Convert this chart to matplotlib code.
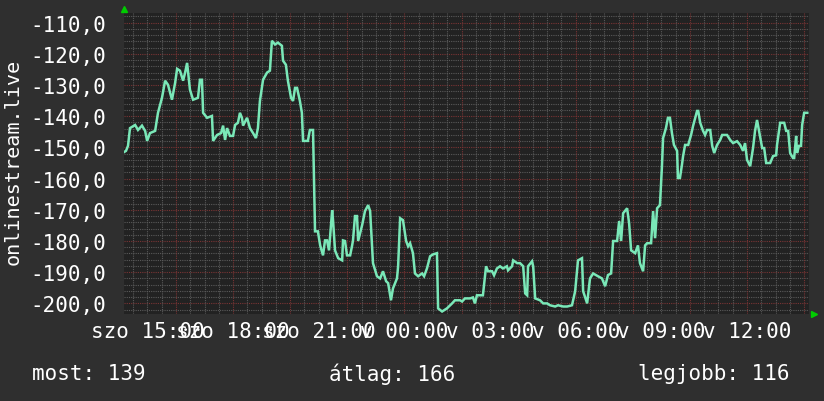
import matplotlib
matplotlib.use("Agg")
import matplotlib.pyplot as plt
import matplotlib.transforms as mtransforms
import numpy as np

# ora (szombat 00:00-tol szamolva) es helyezes (negativ ertekkel)
hours = [14.18, 14.25, 14.32, 14.39, 14.57, 14.67, 14.81, 14.92, 14.99, 15.09,
         15.27, 15.37, 15.51, 15.62, 15.72, 15.86, 15.97, 16.04, 16.14, 16.25,
         16.32, 16.39, 16.49, 16.60, 16.77, 16.84, 16.91, 16.95, 17.09, 17.26,
         17.30, 17.44, 17.58, 17.65, 17.72, 17.79, 17.89, 18.00, 18.07, 18.17,
         18.24, 18.31, 18.35, 18.49, 18.59, 18.70, 18.80, 18.87, 18.94, 19.05,
         19.19, 19.29, 19.36, 19.47, 19.57, 19.71, 19.75, 19.85, 19.92, 20.03,
         20.10, 20.17, 20.24, 20.34, 20.41, 20.45, 20.62, 20.69, 20.80, 20.87,
         20.97, 21.05, 21.15, 21.22, 21.29, 21.36, 21.47, 21.50, 21.57, 21.68,
         21.82, 21.85, 21.92, 21.99, 22.10, 22.17, 22.20, 22.27, 22.34, 22.38,
         22.52, 22.62, 22.73, 22.80, 22.90, 23.04, 23.15, 23.25, 23.36, 23.43,
         23.53, 23.60, 23.74, 23.78, 23.85, 23.95, 24.06, 24.13, 24.20, 24.30,
         24.37, 24.48, 24.62, 24.69, 24.79, 24.90, 25.00, 25.14, 25.18, 25.32,
         25.49, 25.67, 25.77, 25.95, 26.02, 26.12, 26.30, 26.40, 26.47, 26.54,
         26.75, 26.86, 26.93, 27.07, 27.14, 27.24, 27.35, 27.45, 27.59, 27.63,
         27.77, 27.81, 27.95, 28.05, 28.16, 28.23, 28.30, 28.33, 28.47, 28.51,
         28.58, 28.75, 28.86, 29.00, 29.10, 29.28, 29.38, 29.56, 29.70, 29.87,
         29.98, 30.08, 30.22, 30.26, 30.40, 30.50, 30.61, 30.78, 30.92, 31.03,
         31.13, 31.24, 31.31, 31.45, 31.52, 31.59, 31.66, 31.80, 31.87, 31.94,
         32.08, 32.18, 32.25, 32.36, 32.43, 32.50, 32.64, 32.71, 32.78, 32.85,
         32.95, 33.02, 33.06, 33.16, 33.23, 33.30, 33.37, 33.44, 33.55, 33.58,
         33.65, 33.72, 33.76, 33.83, 33.94, 34.04, 34.11, 34.25, 34.29, 34.36,
         34.46, 34.53, 34.60, 34.71, 34.78, 34.85, 34.95, 35.06, 35.13, 35.30,
         35.41, 35.51, 35.65, 35.76, 35.86, 35.93, 36.00, 36.11, 36.21, 36.28,
         36.35, 36.42, 36.53, 36.60, 36.67, 36.81, 36.91, 37.02, 37.05, 37.16,
         37.30, 37.37, 37.44, 37.51, 37.61, 37.65, 37.72, 37.75, 37.82, 37.89,
         37.93, 38.00, 38.11]
rank = [-151.5, -151.1, -149.5, -143.8, -142.8, -144.4, -143.0, -144.7, -147.9, -145.4,
        -144.7, -138.9, -134.1, -128.6, -129.9, -134.7, -129.3, -124.8, -125.4, -128.6,
        -126.0, -122.9, -131.5, -134.7, -134.1, -128.3, -128.3, -138.9, -140.5, -139.9,
        -147.9, -146.0, -145.4, -143.0, -147.6, -143.8, -146.3, -146.3, -142.8, -142.1,
        -138.9, -140.5, -143.0, -140.5, -143.8, -145.4, -147.0, -143.8, -135.1, -128.3,
        -126.0, -125.4, -115.8, -117.0, -116.4, -117.4, -122.2, -123.5, -128.6, -134.1,
        -135.1, -130.9, -130.9, -135.1, -138.9, -147.9, -147.9, -144.4, -144.4, -176.9,
        -176.9, -181.4, -184.6, -179.8, -179.8, -183.0, -170.1, -173.3, -183.0, -185.5,
        -186.2, -179.8, -180.0, -184.6, -184.6, -181.4, -179.8, -172.0, -172.0, -180.0,
        -174.9, -170.4, -168.5, -170.4, -187.1, -191.3, -192.0, -189.7, -192.9, -193.5,
        -199.0, -195.2, -192.0, -188.1, -172.7, -173.3, -180.0, -181.7, -180.7, -183.9,
        -190.4, -191.3, -190.4, -191.3, -188.8, -184.9, -184.3, -183.9, -201.6, -202.6,
        -201.6, -200.0, -199.0, -199.0, -199.4, -198.4, -198.4, -198.1, -200.0, -197.4,
        -197.4, -188.1, -189.7, -189.7, -191.0, -188.8, -188.1, -188.8, -188.1, -189.4,
        -188.1, -186.2, -187.1, -187.1, -188.1, -196.8, -197.4, -188.1, -186.5, -188.1,
        -198.4, -199.0, -200.0, -200.0, -200.6, -201.0, -200.6, -201.0, -201.0, -200.6,
        -196.1, -186.2, -185.5, -196.1, -200.0, -192.0, -190.4, -191.3, -192.0, -194.5,
        -190.9, -190.4, -180.0, -180.0, -173.6, -180.0, -171.1, -169.5, -174.3, -183.0,
        -183.9, -181.4, -187.1, -189.7, -181.4, -180.7, -180.7, -170.4, -179.1, -169.5,
        -168.5, -156.0, -147.0, -143.8, -140.5, -140.5, -145.4, -149.2, -151.1, -159.8,
        -159.8, -155.6, -152.8, -149.2, -149.2, -146.0, -143.1, -138.3, -138.3, -142.1,
        -144.7, -146.0, -144.4, -144.4, -149.5, -151.8, -149.2, -147.6, -146.0, -146.0,
        -147.6, -148.6, -148.0, -149.2, -151.1, -148.6, -154.0, -156.0, -150.2, -144.7,
        -141.2, -144.7, -150.2, -150.2, -155.0, -155.0, -152.8, -152.5, -149.2, -142.1,
        -142.1, -144.7, -144.7, -151.8, -153.4, -153.4, -146.3, -151.8, -149.5, -149.5,
        -142.8, -138.9, -138.9]

y_ticks = [-110, -120, -130, -140, -150, -160, -170, -180, -190, -200]
x_label_hours = [15, 18, 21, 24, 27, 30, 33, 36]
day_names = {0: "szo", 1: "v"}
ylabel = "onlinestream.live"
most, atlag, legjobb = 139, 166, 116

BG = "#2f2f2f"
CANVAS = "#222222"
LINE = "#7ae8b8"
MINOR = "#5a5a5a"
MAJOR = "#7a3434"
ARROW = "#00cc00"
FONT = "DejaVu Sans Mono"

plt.rcParams['font.family'] = [FONT, 'DejaVu Sans']

fig = plt.figure(figsize=(8.24, 4.02), dpi=100, facecolor=BG)
ax = fig.add_axes([124 / 824, 87 / 402, 685 / 824, 301 / 402])
ax.set_facecolor(CANVAS)
x0, x1 = 14.18, 38.17
y0, y1 = -203.4, -106.9
ax.set_xlim(x0, x1)
ax.set_ylim(y0, y1)
for s in ax.spines.values():
    s.set_visible(False)

# racs
dot = (0, (1, 1))
for v in np.arange(-202, y1, 2):
    major = v % 10 == 0
    ax.axhline(v, color=MAJOR if major else MINOR, lw=0.8, ls=dot, zorder=1)
for h in np.arange(np.ceil(x0 * 2) / 2, x1, 0.5):
    major = h % 2 == 0
    ax.axvline(h, color=MAJOR if major else MINOR, lw=0.8, ls=dot, zorder=1)

ax.plot(hours, rank, color=LINE, lw=1.8, zorder=3, solid_joinstyle='miter')

ax.set_yticks(y_ticks)
ax.set_yticklabels([("%.1f" % v).replace(".", ",") for v in y_ticks])
ax.set_xticks(x_label_hours)
ax.set_xticklabels(["%s %02d:00" % (day_names[h // 24], h % 24) for h in x_label_hours])
ax.tick_params(axis='both', length=0, colors='white', labelsize=15)
ax.tick_params(axis='y', pad=13)
ax.tick_params(axis='x', pad=5)

# nyilak
up = mtransforms.offset_copy(ax.transData, fig=fig, x=0, y=4, units='dots')
ax.plot([x0], [y1], marker='^', color=ARROW, ms=5, clip_on=False, transform=up, zorder=5)
right = mtransforms.offset_copy(ax.transData, fig=fig, x=5, y=0, units='dots')
ax.plot([x1], [y0], marker='>', color=ARROW, ms=5, clip_on=False, transform=right, zorder=5)

fig.text(13 / 824, 1 - 162 / 402, ylabel, rotation=90, ha='center', va='center',
         color='white', fontsize=14.5)

fig.text(32 / 824, 1 - 374 / 402, "most: %d" % most, ha='left', va='center',
         color='white', fontsize=15)
fig.text(329 / 824, 1 - 374 / 402, "átlag: %d" % atlag, ha='left', va='center',
         color='white', fontsize=15)
fig.text(790 / 824, 1 - 374 / 402, "legjobb: %d" % legjobb, ha='right', va='center',
         color='white', fontsize=15)

fig.savefig("out.png", dpi=100, facecolor=BG)
